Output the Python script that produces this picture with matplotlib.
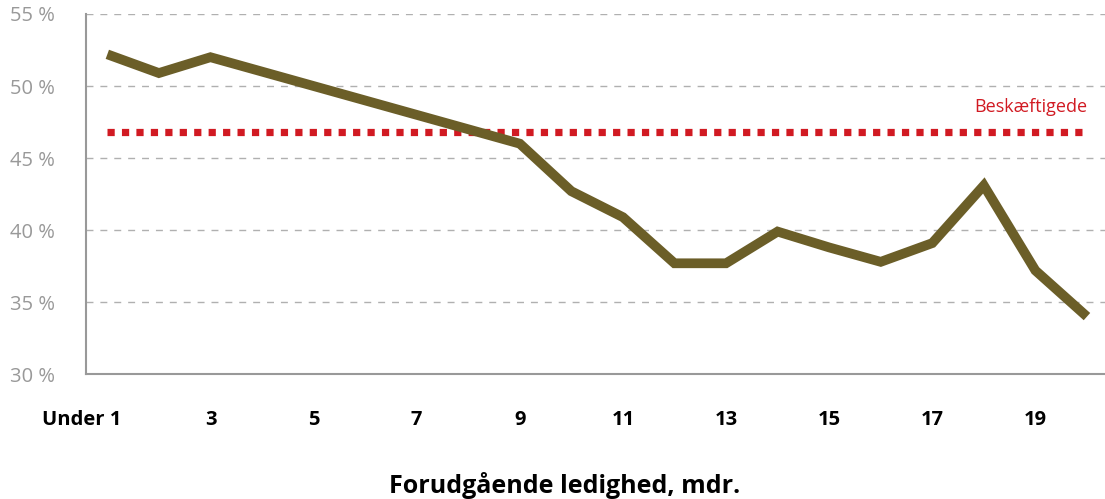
import matplotlib.pyplot as plt
import matplotlib.transforms as mtransforms

# Data.
months = ['Under 1', '2', '3', '4', '5', '6', '7', '8', '9', '10',
          '11', '12', '13', '14', '15', '16', '17', '18', '19', '20']
share = [52.2, 50.9, 52.0, 51.0, 50.0, 49.0, 48.0, 47.0, 46.0, 42.7,
         40.9, 37.7, 37.7, 39.9, 38.8, 37.8, 39.1, 43.1, 37.2, 34.0]
employed = 46.8
y_ticks = [30, 35, 40, 45, 50, 55]

plt.rcParams['font.family'] = ['Open Sans', 'DejaVu Sans']

fig = plt.figure(figsize=(11.05, 4.99), dpi=100)
ax = fig.add_axes([0.078, 0.25, 0.922, 0.722])

x = list(range(len(months)))

# Reference line for the employed.
ax.plot([x[0], x[-1]], [employed, employed], color='#d11a22', linewidth=5.2,
        linestyle=(0, (1, 1)), solid_capstyle='butt', dash_capstyle='butt')
ax.text(x[-1], employed + 1.1, 'Beskæftigede', color='#d11a22',
        fontsize=13, ha='right', va='bottom')

# Main series.
ax.plot(x, share, color='#6b5e28', linewidth=7, solid_capstyle='butt',
        solid_joinstyle='miter')

ax.set_xlim(-0.41, 19.35)
ax.set_ylim(30, 55)
ax.set_yticks(y_ticks)
ax.set_yticklabels([f'{v} %' for v in y_ticks], color='#999999', fontsize=14.5)
ax.set_xticks(x[::2])
ax.set_xticklabels(months[::2], fontweight='bold', fontsize=14.5, color='black')

ax.tick_params(axis='both', length=0)
ax.tick_params(axis='y', pad=55)
ax.tick_params(axis='x', pad=26)
for lab in ax.get_yticklabels():
    lab.set_horizontalalignment('left')

# "Under 1" sits a bit left of its point in the original.
first = ax.get_xticklabels()[0]
first.set_transform(first.get_transform() +
                    mtransforms.ScaledTranslation(-0.26, 0, fig.dpi_scale_trans))

ax.grid(axis='y', color='#b0b0b0', linestyle=(0, (5, 5)), linewidth=1)
ax.set_axisbelow(True)
for side in ['top', 'right']:
    ax.spines[side].set_visible(False)
for side in ['left', 'bottom']:
    ax.spines[side].set_color('#999999')
    ax.spines[side].set_linewidth(1.5)

ax.set_xlabel('Forudgående ledighed, mdr.', fontsize=18, fontweight='bold')
ax.xaxis.set_label_coords(0.47, -0.27)

fig.savefig('out.png', dpi=100)
